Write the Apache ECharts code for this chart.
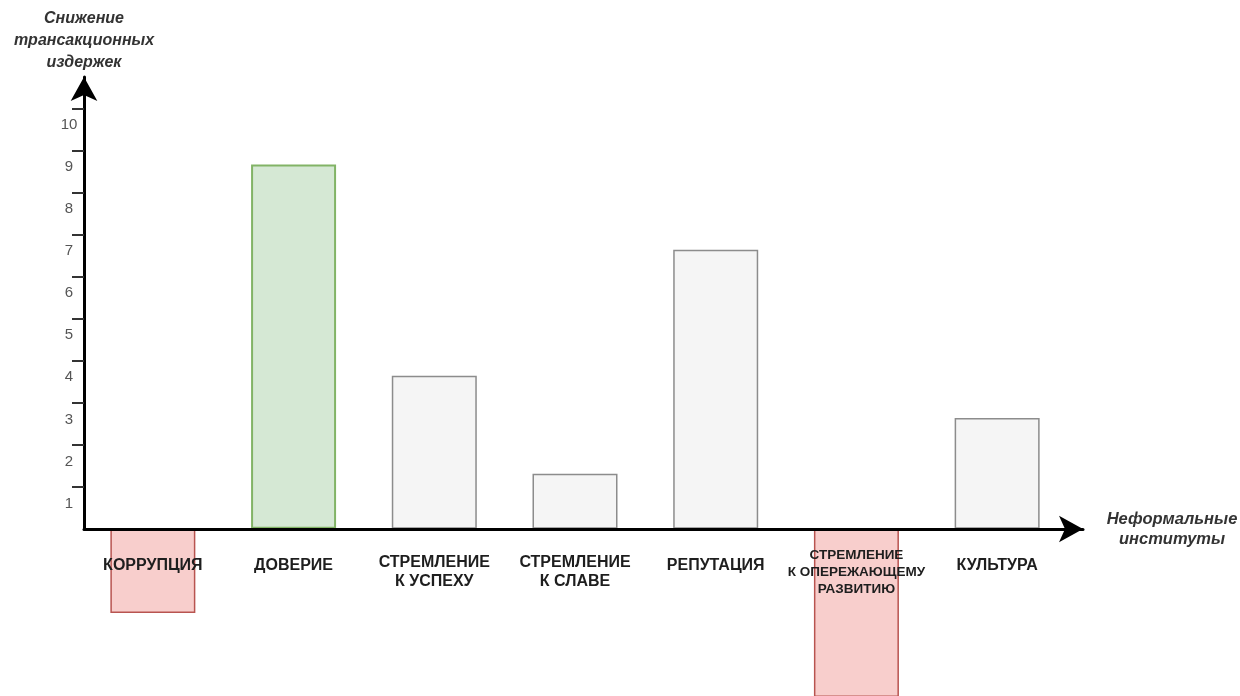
<!DOCTYPE html>
<html>
<head>
<meta charset="utf-8">
<script src="https://cdn.jsdelivr.net/npm/echarts@6.0.0/dist/echarts.min.js"></script>
<style>
  html, body { margin: 0; padding: 0; background: #ffffff; }
  #chart { width: 1240px; height: 696px; }
</style>
</head>
<body>
<div id="chart"></div>
<script>
// Informal institutions and their effect on transaction costs
const categories = [
  'КОРРУПЦИЯ',
  'ДОВЕРИЕ',
  'СТРЕМЛЕНИЕ\nК УСПЕХУ',
  'СТРЕМЛЕНИЕ\nК СЛАВЕ',
  'РЕПУТАЦИЯ',
  'СТРЕМЛЕНИЕ\nК ОПЕРЕЖАЮЩЕМУ\nРАЗВИТИЮ',
  'КУЛЬТУРА'
];
const values = [-2, 8.67, 3.64, 1.31, 6.64, -4, 2.64];
const yTicks = [1, 2, 3, 4, 5, 6, 7, 8, 9, 10];
const yAxisTitle = 'Снижение\nтрансакционных\nиздержек';
const xAxisTitle = 'Неформальные\nинституты';

const FONT = '"Liberation Sans", Arial, sans-serif';
const Y_MIN = -4, Y_MAX = 10.75;

// fill / border pairs: negative, leading positive, other positive
const STYLE_NEG = { color: '#f8cecc', borderColor: '#b85450', borderWidth: 1.5 };
const STYLE_TOP = { color: '#d5e8d4', borderColor: '#82b366', borderWidth: 2 };
const STYLE_POS = { color: '#f5f5f5', borderColor: '#8c8c8c', borderWidth: 1.5 };

const maxValue = Math.max(...values);
const barData = values.map(v => ({
  value: v,
  itemStyle: v < 0 ? STYLE_NEG : (v === maxValue ? STYLE_TOP : STYLE_POS)
}));

// category labels: one rich style per line count
function categoryLabel(text) {
  const lines = text.split('\n');
  const key = lines.length === 1 ? 'one' : (lines.length === 2 ? 'two' : 'three');
  return lines.map(l => '{' + key + '|' + l + '}').join('\n');
}

const chart = echarts.init(document.getElementById('chart'), null, { renderer: 'canvas' });

const noBounds = { outerBoundsMode: 'none', containLabel: false };

chart.setOption({
  animation: false,
  backgroundColor: '#ffffff',
  grid: [
    // bars (zero line at y = 529)
    Object.assign({ left: 82.5, top: 77, width: 985, height: 620 }, noBounds),
    // arrowed axes frame
    Object.assign({ left: 84, top: 77, width: 999, height: 452 }, noBounds),
    // category labels under the zero line
    Object.assign({ left: 82.5, top: 77, width: 985, height: 452 }, noBounds)
  ],
  xAxis: [
    {
      gridIndex: 0,
      type: 'category',
      data: categories,
      show: false
    },
    {
      gridIndex: 1,
      type: 'value',
      min: 0,
      max: 1,
      z: 10,
      axisLine: {
        show: true,
        symbol: ['none', 'arrow'],
        symbolSize: [20, 24],
        lineStyle: { color: '#000000', width: 3 }
      },
      axisTick: { show: false },
      axisLabel: { show: false },
      splitLine: { show: false },
      name: xAxisTitle,
      nameLocation: 'end',
      nameGap: 89,
      nameTextStyle: {
        fontFamily: FONT, fontWeight: 'bold', fontStyle: 'italic',
        fontSize: 16.5, lineHeight: 20, color: '#333',
        align: 'center', verticalAlign: 'middle'
      }
    },
    {
      gridIndex: 2,
      type: 'category',
      data: categories,
      z: 10,
      axisLine: { show: false },
      axisTick: { show: false },
      splitLine: { show: false },
      axisLabel: {
        interval: 0,
        margin: 43,
        verticalAlign: 'middle',
        formatter: categoryLabel,
        rich: {
          one:   { fontFamily: FONT, fontWeight: 'bold', fontSize: 16, color: '#1e1e1e', lineHeight: 19, padding: [0, 0, 12, 0] },
          two:   { fontFamily: FONT, fontWeight: 'bold', fontSize: 16, color: '#1e1e1e', lineHeight: 19 },
          three: { fontFamily: FONT, fontWeight: 'bold', fontSize: 13.5, color: '#1e1e1e', lineHeight: 17 }
        }
      }
    }
  ],
  yAxis: [
    {
      gridIndex: 0,
      type: 'value',
      min: Y_MIN,
      max: Y_MAX,
      show: false,
      splitLine: { show: false }
    },
    {
      gridIndex: 1,
      type: 'value',
      min: 0,
      max: Y_MAX,
      z: 10,
      axisLine: {
        show: true,
        symbol: ['none', 'arrow'],
        symbolSize: [20, 24],
        lineStyle: { color: '#000000', width: 3 }
      },
      axisTick: {
        show: true,
        customValues: yTicks,
        length: 12,
        lineStyle: { color: '#333333', width: 2 }
      },
      axisLabel: {
        customValues: yTicks,
        margin: 15,
        align: 'center',
        verticalAlign: 'top',
        lineHeight: 33,
        fontFamily: FONT,
        fontSize: 15,
        color: '#555555'
      },
      splitLine: { show: false },
      name: yAxisTitle,
      nameLocation: 'end',
      nameGap: 36,
      nameTextStyle: {
        fontFamily: FONT, fontWeight: 'bold', fontStyle: 'italic',
        fontSize: 16, lineHeight: 22, color: '#333',
        align: 'center', verticalAlign: 'middle'
      }
    },
    {
      gridIndex: 2,
      type: 'value',
      min: 0,
      max: Y_MAX,
      show: false
    }
  ],
  series: [
    {
      type: 'bar',
      xAxisIndex: 0,
      yAxisIndex: 0,
      barWidth: 85,
      data: barData,
      z: 2
    }
  ]
});
</script>
</body>
</html>
